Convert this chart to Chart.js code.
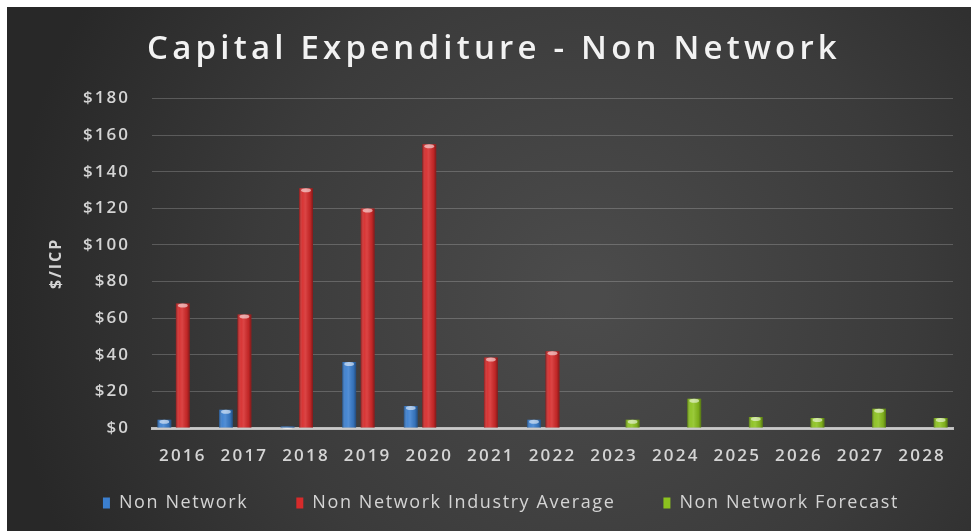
<!DOCTYPE html>
<html>
<head>
<meta charset="utf-8">
<script src="https://cdn.jsdelivr.net/npm/chart.js@4.4.0/dist/chart.umd.min.js"></script>
<style>
  html, body { margin: 0; padding: 0; background: #fff; }
  #wrap { position: absolute; left: 7px; top: 7px; width: 964px; height: 524px; }
</style>
</head>
<body>
<div id="wrap"><canvas id="chart"></canvas></div>
<script>
const years = ["2016", "2017", "2018", "2019", "2020", "2021", "2022", "2023", "2024", "2025", "2026", "2027", "2028"];
const nonNetwork = [4.5, 10, 0.8, 36, 12, 0, 4.5, null, null, null, null, null, null];
const industryAvg = [68, 62, 131, 120, 155, 38.5, 42, null, null, null, null, null, null];
const forecast = [null, null, null, null, null, null, null, 4.5, 16, 6, 5.5, 10.5, 5.5];
const yTicks = [0, 20, 40, 60, 80, 100, 120, 140, 160, 180];

const labelColor = "#d4d4d4";
const fontFamily = "'Open Sans', 'Noto Sans', sans-serif";

// dark panel with a soft light spot right of centre
const panelBg = {
  id: "panelBg",
  beforeDraw(chart) {
    const { ctx, width, height } = chart;
    const g = ctx.createRadialGradient(width * 0.6, height * 0.55, 20, width * 0.6, height * 0.55, width * 0.6);
    g.addColorStop(0, "#4b4b4b");
    g.addColorStop(0.55, "#3b3b3b");
    g.addColorStop(1, "#282828");
    ctx.save();
    ctx.fillStyle = g;
    ctx.fillRect(0, 0, width, height);
    ctx.restore();
  }
};

// wide letter spacing for the text boxes; title and legend also get nudged
function spaceOut(box, cfg) {
  if (!box || box._spaced) return;
  box._spaced = true;
  const fit = box.fit, draw = box.draw;
  box.fit = function (...args) {
    const ctx = this.ctx;
    ctx.save();
    ctx.letterSpacing = cfg.ls + "px";
    const r = fit.apply(this, args);
    ctx.restore();
    if (cfg.h) this.height = cfg.h;
    return r;
  };
  box.draw = function (...args) {
    const ctx = this.ctx;
    const { top, bottom } = this;
    if (cfg.dy) {
      // shift the box up and let it reach the canvas bottom so nothing is clipped
      this.top += cfg.dy;
      this.bottom = this.chart.height;
    }
    ctx.save();
    ctx.letterSpacing = cfg.ls + "px";
    ctx.translate(cfg.dx || 0, 0);
    const r = draw.apply(this, args);
    ctx.restore();
    this.top = top;
    this.bottom = bottom;
    return r;
  };
}
const spacedText = {
  id: "spacedText",
  beforeLayout(chart) {
    spaceOut(chart.titleBlock, { ls: 4.2, dx: 14 });
    spaceOut(chart.legend, { ls: 1.6, dx: 21, dy: -27, h: 58 });
    spaceOut(chart.scales.x, { ls: 2.2 });
    spaceOut(chart.scales.y, { ls: 2 });
  }
};

// round-bar shading: darker edges and a light cap on top
const barShade = {
  id: "barShade",
  afterDatasetsDraw(chart) {
    const { ctx } = chart;
    ctx.save();
    chart.data.datasets.forEach((ds, di) => {
      const meta = chart.getDatasetMeta(di);
      meta.data.forEach((bar, i) => {
        if (ds.data[i] == null) return;
        const w = bar.width, x0 = bar.x - w / 2, top = bar.y, h = bar.base - bar.y;
        if (h < 0.5) return;
        const g = ctx.createLinearGradient(x0, 0, x0 + w, 0);
        g.addColorStop(0, "rgba(0,0,0,0.35)");
        g.addColorStop(0.25, "rgba(255,255,255,0.05)");
        g.addColorStop(0.45, "rgba(255,255,255,0.12)");
        g.addColorStop(0.8, "rgba(0,0,0,0.1)");
        g.addColorStop(1, "rgba(0,0,0,0.4)");
        ctx.fillStyle = g;
        ctx.fillRect(x0, top, w, h);
        ctx.fillStyle = "rgba(255,255,255,0.55)";
        ctx.beginPath();
        ctx.ellipse(bar.x, top + 2, w * 0.35, Math.min(2, h / 2), 0, 0, Math.PI * 2);
        ctx.fill();
      });
    });
    ctx.restore();
  }
};

new Chart(document.getElementById("chart"), {
  type: "bar",
  data: {
    labels: years,
    datasets: [
      { label: "Non Network", data: nonNetwork, backgroundColor: "#3b7fcf" },
      { label: "Non Network Industry Average", data: industryAvg, backgroundColor: "#d62b2b" },
      { label: "Non Network Forecast", data: forecast, backgroundColor: "#8cc21f" }
    ]
  },
  options: {
    responsive: true,
    maintainAspectRatio: false,
    animation: false,
    datasets: { bar: { categoryPercentage: 0.9, barPercentage: 0.75 } },
    layout: { padding: { right: 18, bottom: 0 } },
    plugins: {
      title: {
        display: true,
        text: "Capital Expenditure - Non Network",
        color: "#f2f2f2",
        font: { family: fontFamily, size: 33, weight: "600" },
        padding: { top: 23, bottom: 29 }
      },
      legend: {
        position: "bottom",
        labels: {
          color: labelColor,
          font: { family: fontFamily, size: 18 },
          boxWidth: 7,
          boxHeight: 11,
          padding: 48
        }
      },
      tooltip: { enabled: false }
    },
    scales: {
      x: {
        grid: { display: false },
        border: { color: "#bdbdbd", width: 3 },
        ticks: { color: labelColor, font: { family: fontFamily, size: 17, weight: "600" }, padding: 10, maxRotation: 0, autoSkip: false },
        afterFit(scale) { scale.height = 45; }
      },
      y: {
        min: 0,
        max: 180,
        border: { display: false },
        grid: { color: "rgba(255,255,255,0.2)", lineWidth: 1, drawTicks: false },
        afterBuildTicks(scale) { scale.ticks = yTicks.map(v => ({ value: v })); },
        ticks: {
          color: labelColor,
          font: { family: fontFamily, size: 17, weight: "600" },
          padding: 22,
          callback: v => "$" + v
        },
        title: {
          display: true,
          text: "$/ICP",
          color: labelColor,
          font: { family: fontFamily, size: 16, weight: "bold" },
          padding: { top: 40, bottom: 0 }
        },
        afterFit(scale) { scale.width = 145; }
      }
    }
  },
  plugins: [panelBg, spacedText, barShade]
});
</script>
</body>
</html>
